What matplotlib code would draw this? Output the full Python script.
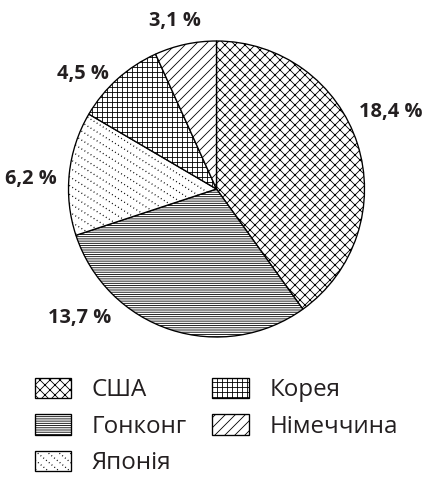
import numpy as np
import matplotlib
matplotlib.use('Agg')
import matplotlib.pyplot as plt
from matplotlib.patches import Rectangle
from matplotlib.lines import Line2D
from matplotlib.legend_handler import HandlerBase

####################
# Data
####################
countries = ['США', 'Гонконг', 'Японія', 'Корея', 'Німеччина']
shares = [18.4, 13.7, 6.2, 4.5, 3.1]
share_labels = ['18,4 %', '13,7 %', '6,2 %', '4,5 %', '3,1 %']
hatches = ['xxxx', '-' * 9, '', '+' * 4, '////']

####################
# Setup
####################
W, H, DPI = 423, 479, 120
plt.rcParams['font.family'] = ['Open Sans', 'DejaVu Sans']
plt.rcParams['hatch.linewidth'] = 0.5
plt.rcParams['hatch.color'] = 'black'

fig = plt.figure(figsize=(W / DPI, H / DPI), dpi=DPI)
ax = fig.add_axes([0, 0, 1, 1])

cx, cy, r = 216.5, H - 189, 148  # pixel coords, y up

wedges, _ = ax.pie(shares, startangle=90, counterclock=False,
                   center=(cx, cy), radius=r,
                   wedgeprops=dict(facecolor='white', edgecolor='black', linewidth=0.8))
for w, h in zip(wedges, hatches):
    w.set_hatch(h)

ax.set_xlim(0, W)
ax.set_ylim(0, H)
ax.set_aspect('equal')
ax.axis('off')

# dotted diagonal lines for Japan wedge (no matching built-in hatch)
jp = wedges[2]
ang = np.deg2rad(-32)
d = np.array([np.cos(ang), np.sin(ang)])
nrm = np.array([-d[1], d[0]])
for k in np.arange(-60, 60):
    p0 = np.array([cx, cy]) + nrm * k * 7.5
    pts = np.array([p0 - d * 400, p0 + d * 400])
    ln = Line2D(pts[:, 0], pts[:, 1], color='black', lw=0.8,
                linestyle=(0, (0.7, 2.0)))
    ax.add_line(ln)
    ln.set_clip_path(jp)

# percentage labels (positions set by hand as in the source)
label_pos = [(391, 112), (80, 318), (31, 179), (83, 74), (175, 21)]
for (x, y), t in zip(label_pos, share_labels):
    ax.text(x, H - y, t, ha='center', va='center', fontsize=12,
            fontweight='bold', color='#231f20')


class DottedHandler(HandlerBase):
    def create_artists(self, legend, orig_handle, xdescent, ydescent,
                       width, height, fontsize, trans):
        rect = Rectangle((-xdescent, -ydescent), width, height,
                         facecolor='white', edgecolor='black', lw=0.8,
                         transform=trans)
        arts = [rect]
        for k in range(-3, 8):
            x0 = -xdescent + k * 6.5
            ln = Line2D([x0, x0 + height * 1.2], [height - ydescent, -ydescent],
                        color='black', lw=0.8, linestyle=(0, (0.7, 2.0)),
                        transform=trans)
            ln.set_clip_path(rect)
            arts.append(ln)
        return arts


leg = fig.legend(wedges, countries, ncol=2, loc='upper left',
                 bbox_to_anchor=(35 / W, 1 - 378 / H), frameon=False,
                 fontsize=14.5, handlelength=1.5, handleheight=0.9,
                 handletextpad=0.85, columnspacing=1.05, labelspacing=0.5,
                 borderpad=0, borderaxespad=0,
                 handler_map={wedges[2]: DottedHandler()})
for t in leg.get_texts():
    t.set_color('#231f20')

fig.savefig('out.png', dpi=DPI)
